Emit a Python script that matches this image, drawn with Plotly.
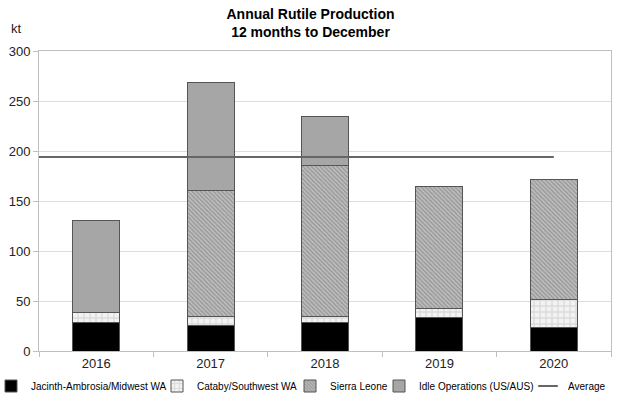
import plotly.graph_objects as go

years = ["2016", "2017", "2018", "2019", "2020"]
jacinth = [29, 26, 29, 34, 24]
cataby = [10, 9, 6, 9, 28]
sierra = [0, 126, 151, 122, 120]
idle = [92, 108, 49, 0, 0]
average = 194

font = "Liberation Sans, Arial, sans-serif"
edge = dict(color="#555555", width=1)
W, H = 621, 401
L, R, T, B = 39, 10, 51, 50
pw = W - L - R
ph = H - T - B


def px_to_paper_x(px):
    return (px - L) / pw


def px_to_paper_y(py):
    return (H - B - py) / ph


# legend text starts (pixels) for the five separate legends
legend_text_left = [31, 197, 330, 419, 568]
legend_ids = ["legend", "legend2", "legend3", "legend4", "legend5"]

fig = go.Figure()
fig.add_trace(go.Bar(x=years, y=jacinth, name="Jacinth-Ambrosia/Midwest WA", legend="legend",
                     marker=dict(color="#000000", line=edge), width=0.41))
fig.add_trace(go.Bar(x=years, y=cataby, name="Cataby/Southwest WA", legend="legend2",
                     marker=dict(color="#ffffff", line=edge,
                                 pattern=dict(shape="+", fgcolor="#c4c4c4", bgcolor="#f2f2f2",
                                              size=6, solidity=0.4)), width=0.41))
fig.add_trace(go.Bar(x=years, y=sierra, name="Sierra Leone", legend="legend3",
                     marker=dict(color="#bcbcbc", line=edge,
                                 pattern=dict(shape="\\", fgcolor="#6e6e6e", bgcolor="#bebebe",
                                              size=3, solidity=0.45)), width=0.41))
fig.add_trace(go.Bar(x=years, y=idle, name="Idle Operations (US/AUS)", legend="legend4",
                     marker=dict(color="#a6a6a6", line=edge), width=0.41))
fig.add_trace(go.Scatter(x=[-0.5, len(years) - 1], y=[average, average], name="Average",
                         mode="lines", line=dict(color="#666666", width=2), xaxis="x2",
                         showlegend=False))
# legend entry for the average line (short line swatch)
fig.add_trace(go.Scatter(x=[None], y=[None], name="Average", legend="legend5", mode="markers",
                         marker=dict(symbol="line-ew", size=14, color="#666666",
                                     line=dict(color="#666666", width=2)), xaxis="x2"))

legend_layout = {}
for lid, tx in zip(legend_ids, legend_text_left):
    legend_layout[lid] = dict(
        orientation="h", xref="paper", yref="paper",
        x=px_to_paper_x(tx - 40), xanchor="left",
        y=px_to_paper_y(386), yanchor="middle",
        font=dict(size=10, color="#000000", family=font), itemwidth=30,
        bgcolor="rgba(0,0,0,0)", borderwidth=0,
    )

fig.update_layout(
    width=W, height=H, barmode="stack",
    paper_bgcolor="white", plot_bgcolor="white",
    margin=dict(l=L, r=R, t=T, b=B, autoexpand=False),
    font=dict(family=font, size=13, color="#222222"),
    title=dict(text="<b>Annual Rutile Production<br>12 months to December</b>",
               x=0.5, xanchor="center", y=0.952, yanchor="top",
               font=dict(size=14, color="#000000")),
    xaxis=dict(type="category", tickson="boundaries", ticks="outside", ticklen=5,
               tickcolor="#bfbfbf", showline=True, linecolor="#bfbfbf", mirror=True,
               showgrid=False, range=[-0.5, 4.5]),
    xaxis2=dict(overlaying="x", range=[-0.5, 4.5], visible=False),
    yaxis=dict(range=[0, 300], dtick=50, ticks="outside", ticklen=5, tickcolor="#bfbfbf",
               showline=True, linecolor="#bfbfbf", mirror=True,
               gridcolor="#dddddd", zeroline=False),
    annotations=[dict(text="kt", xref="paper", yref="paper", x=px_to_paper_x(16),
                      y=px_to_paper_y(28), xanchor="center", yanchor="middle",
                      showarrow=False, font=dict(size=13))],
    **legend_layout,
)

fig.write_html("out.html", config={"displayModeBar": False},
               post_script="document.body.style.margin='0';")
